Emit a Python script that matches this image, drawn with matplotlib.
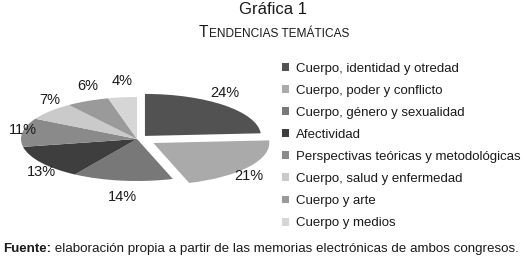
import numpy as np
import matplotlib.pyplot as plt

plt.rcParams['font.family'] = ['Liberation Sans', 'DejaVu Sans']

# data
categories = ['Cuerpo, identidad y otredad', 'Cuerpo, poder y conflicto',
              'Cuerpo, género y sexualidad', 'Afectividad',
              'Perspectivas teóricas y metodológicas', 'Cuerpo, salud y enfermedad',
              'Cuerpo y arte', 'Cuerpo y medios']
values = [24, 21, 14, 13, 11, 7, 6, 4]
colors = ['#525252', '#aaaaaa', '#787878', '#3e3e3e',
          '#8a8a8a', '#cacaca', '#9a9a9a', '#d6d6d6']
explode = [0.1, 0.17, 0, 0, 0, 0, 0, 0]

W, H = 525, 267
fig = plt.figure(figsize=(W / 100, H / 100), dpi=100)

# pie drawn as a flattened ellipse (tilted look)
cx, cy, rx, ry = 137, H - 139, 116, 42
x0, x1, y0, y1 = -1.15, 1.35, -1.6, 1.6
ax = fig.add_axes([(cx + x0 * rx) / W, (cy + y0 * ry) / H,
                   (x1 - x0) * rx / W, (y1 - y0) * ry / H])
wedges, _ = ax.pie(values, colors=colors, explode=explode, startangle=90,
                   counterclock=False, wedgeprops=dict(linewidth=0))
ax.set_aspect('auto')
ax.set_xlim(x0, x1)
ax.set_ylim(y0, y1)
ax.axis('off')

# percent labels outside the ellipse
for w, v in zip(wedges, values):
    th = np.deg2rad((w.theta1 + w.theta2) / 2)
    px = w.center[0] + 1.0 * np.cos(th)
    py = w.center[1] + 1.4 * np.sin(th)
    ax.text(px, py, f'{v}%', ha='center', va='center', fontsize=10.5, color='#1a1a1a')

# legend
fig.legend(wedges, categories, loc='upper left', bbox_to_anchor=(282 / W, 1 - 63 / H),
           frameon=False, fontsize=9.5, handlelength=0.55, handleheight=0.55,
           handletextpad=0.5, labelspacing=0.76, borderpad=0, borderaxespad=0,
           labelcolor='#1a1a1a')

# titles
fig.text(273 / W, 1 - 10 / H, 'Gráfica 1', ha='center', va='center',
         fontsize=12, color='#1a1a1a')
t1 = fig.text(199 / W, 1 - 37 / H, 'T', ha='left', va='baseline',
              fontsize=11.2, color='#1a1a1a')
plt.annotate('ENDENCIAS TEMÁTICAS', xy=(1, 0), xycoords=t1, xytext=(0.3, 0),
             textcoords='offset points', ha='left', va='bottom',
             fontsize=8.6, color='#1a1a1a', annotation_clip=False)

# footer
f1 = fig.text(3 / W, 1 - 249 / H, 'Fuente:', ha='left', va='center',
              fontsize=9.6, fontweight='bold', color='#1a1a1a')
plt.annotate(' elaboración propia a partir de las memorias electrónicas de ambos congresos.',
             xy=(1, 0), xycoords=f1, ha='left', va='bottom', fontsize=9.6,
             color='#1a1a1a', annotation_clip=False)

fig.savefig('out.png', dpi=100)
